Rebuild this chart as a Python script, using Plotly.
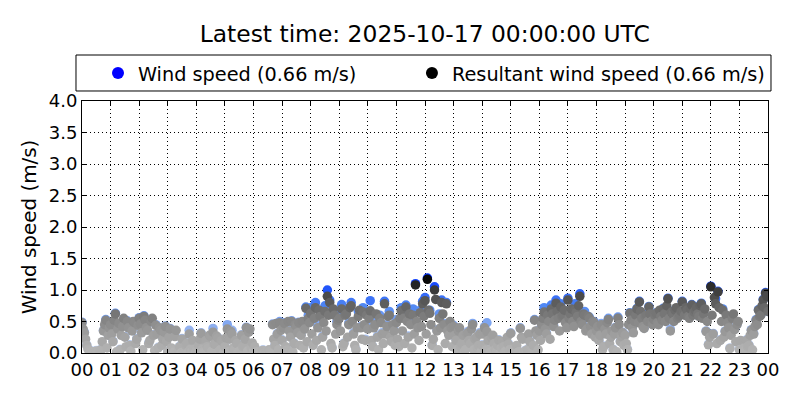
import plotly.graph_objects as go

hour_labels = ["00", "01", "02", "03", "04", "05", "06", "07", "08", "09", "10", "11",
               "12", "13", "14", "15", "16", "17", "18", "19", "20", "21", "22", "23", "00"]

# Resultant wind speed (m/s), samples at hh:00, hh:05, ... hh:55
resultant_by_hour = [
    [0.48, 0.32, 0.12, 0.04, 0.02, 0.01, 0.03, 0.02, 0.05, 0.35, 0.52, 0.28],
    [0.45, 0.18, 0.62, 0.38, 0.05, 0.42, 0.25, 0.50, 0.12, 0.35, 0.48, 0.22],
    [0.55, 0.32, 0.58, 0.40, 0.15, 0.50, 0.28, 0.44, 0.08, 0.36, 0.22, 0.42],
    [0.02, 0.38, 0.05, 0.26, 0.01, 0.10, 0.22, 0.03, 0.15, 0.30, 0.02, 0.06],
    [0.04, 0.12, 0.31, 0.02, 0.20, 0.08, 0.26, 0.33, 0.15, 0.24, 0.05, 0.18],
    [0.10, 0.38, 0.22, 0.30, 0.05, 0.15, 0.02, 0.28, 0.12, 0.40, 0.33, 0.08],
    [0.03, 0.01, 0.02, 0.00, 0.04, 0.02, 0.01, 0.03, 0.45, 0.12, 0.30, 0.48],
    [0.20, 0.47, 0.05, 0.35, 0.50, 0.15, 0.42, 0.48, 0.28, 0.08, 0.71, 0.55],
    [0.63, 0.12, 0.72, 0.40, 0.58, 0.25, 0.66, 0.90, 0.80, 0.08, 0.60, 0.45],
    [0.55, 0.70, 0.15, 0.62, 0.45, 0.75, 0.30, 0.05, 0.58, 0.40, 0.65, 0.20],
    [0.38, 0.67, 0.10, 0.45, 0.25, 0.55, 0.30, 0.78, 0.42, 0.60, 0.18, 0.35],
    [0.48, 0.10, 0.67, 0.55, 0.73, 0.25, 0.45, 0.60, 1.08, 0.40, 0.64, 0.78],
    [0.83, 1.17, 0.63, 0.12, 1.00, 0.35, 0.55, 0.80, 0.45, 0.78, 0.28, 0.40],
    [0.42, 0.20, 0.35, 0.10, 0.28, 0.05, 0.32, 0.15, 0.45, 0.22, 0.08, 0.30],
    [0.12, 0.40, 0.34, 0.05, 0.24, 0.15, 0.02, 0.20, 0.08, 0.10, 0.03, 0.14],
    [0.31, 0.02, 0.04, 0.01, 0.39, 0.22, 0.03, 0.05, 0.18, 0.02, 0.52, 0.28],
    [0.35, 0.45, 0.65, 0.30, 0.50, 0.70, 0.42, 0.79, 0.55, 0.73, 0.60, 0.48],
    [0.84, 0.62, 0.50, 0.68, 0.58, 0.90, 0.45, 0.60, 0.38, 0.55, 0.30, 0.48],
    [0.35, 0.20, 0.45, 0.10, 0.30, 0.53, 0.25, 0.05, 0.40, 0.55, 0.18, 0.32],
    [0.28, 0.05, 0.63, 0.40, 0.50, 0.70, 0.81, 0.55, 0.39, 0.60, 0.73, 0.50],
    [0.53, 0.63, 0.45, 0.58, 0.70, 0.50, 0.86, 0.35, 0.62, 0.68, 0.55, 0.60],
    [0.81, 0.60, 0.68, 0.55, 0.76, 0.65, 0.72, 0.58, 0.78, 0.62, 0.34, 0.13],
    [1.05, 0.30, 0.78, 0.97, 0.20, 0.68, 0.34, 0.48, 0.07, 0.55, 0.37, 0.45],
    [0.05, 0.02, 0.08, 0.20, 0.12, 0.36, 0.30, 0.52, 0.68, 0.60, 0.84, 0.95],
]
# Resultant wind speed (m/s), samples at hh:02:30, hh:07:30, ... hh:57:30
resultant_mid_by_hour = [
    [0.38, 0.22, 0.06, 0.01, 0.00, 0.02, 0.00, 0.04, 0.18, 0.45, 0.08, 0.40],
    [0.30, 0.52, 0.02, 0.47, 0.28, 0.55, 0.10, 0.40, 0.03, 0.50, 0.15, 0.44],
    [0.46, 0.05, 0.52, 0.36, 0.20, 0.55, 0.04, 0.30, 0.40, 0.12, 0.33, 0.18],
    [0.25, 0.08, 0.01, 0.36, 0.04, 0.00, 0.02, 0.12, 0.01, 0.06, 0.20, 0.00],
    [0.02, 0.22, 0.06, 0.01, 0.10, 0.28, 0.03, 0.14, 0.27, 0.02, 0.20, 0.01],
    [0.24, 0.02, 0.34, 0.08, 0.20, 0.01, 0.04, 0.10, 0.22, 0.03, 0.38, 0.16],
    [0.10, 0.00, 0.01, 0.03, 0.00, 0.02, 0.05, 0.01, 0.22, 0.47, 0.05, 0.36],
    [0.40, 0.10, 0.50, 0.25, 0.02, 0.45, 0.32, 0.12, 0.50, 0.38, 0.18, 0.48],
    [0.30, 0.55, 0.20, 0.68, 0.05, 0.48, 0.35, 0.60, 0.15, 0.70, 0.30, 0.52],
    [0.35, 0.10, 0.60, 0.25, 0.72, 0.50, 0.12, 0.40, 0.68, 0.22, 0.45, 0.60],
    [0.55, 0.20, 0.40, 0.62, 0.05, 0.48, 0.15, 0.30, 0.58, 0.25, 0.45, 0.12],
    [0.22, 0.55, 0.35, 0.15, 0.50, 0.62, 0.08, 0.30, 0.50, 0.20, 0.42, 0.58],
    [0.30, 0.68, 0.45, 0.22, 0.85, 0.05, 0.40, 0.62, 0.15, 0.35, 0.50, 0.10],
    [0.28, 0.05, 0.40, 0.15, 0.02, 0.30, 0.20, 0.38, 0.05, 0.25, 0.12, 0.02],
    [0.30, 0.05, 0.20, 0.01, 0.28, 0.06, 0.12, 0.00, 0.18, 0.02, 0.25, 0.05],
    [0.06, 0.00, 0.12, 0.02, 0.25, 0.00, 0.01, 0.30, 0.04, 0.12, 0.35, 0.05],
    [0.20, 0.55, 0.38, 0.60, 0.22, 0.62, 0.52, 0.66, 0.35, 0.58, 0.68, 0.40],
    [0.55, 0.70, 0.42, 0.64, 0.75, 0.50, 0.62, 0.35, 0.58, 0.42, 0.50, 0.25],
    [0.42, 0.28, 0.05, 0.38, 0.48, 0.15, 0.35, 0.30, 0.02, 0.45, 0.26, 0.12],
    [0.15, 0.45, 0.52, 0.32, 0.60, 0.48, 0.66, 0.42, 0.58, 0.50, 0.62, 0.45],
    [0.60, 0.48, 0.68, 0.52, 0.62, 0.75, 0.55, 0.65, 0.50, 0.72, 0.58, 0.66],
    [0.65, 0.72, 0.58, 0.70, 0.60, 0.68, 0.62, 0.75, 0.55, 0.70, 0.50, 0.25],
    [0.60, 0.88, 0.15, 0.72, 0.50, 0.25, 0.60, 0.40, 0.28, 0.62, 0.18, 0.50],
    [0.20, 0.01, 0.04, 0.10, 0.28, 0.05, 0.42, 0.45, 0.58, 0.75, 0.72, 0.90],
]
resultant_last = 0.66

# Wind speed (m/s), samples at hh:00, hh:05, ... hh:55
wind_by_hour = [
    [0.49, 0.33, 0.13, 0.05, 0.03, 0.02, 0.04, 0.03, 0.06, 0.36, 0.53, 0.29],
    [0.46, 0.19, 0.63, 0.39, 0.06, 0.43, 0.26, 0.51, 0.13, 0.36, 0.49, 0.23],
    [0.56, 0.33, 0.59, 0.41, 0.16, 0.51, 0.29, 0.45, 0.09, 0.37, 0.23, 0.43],
    [0.03, 0.39, 0.06, 0.27, 0.02, 0.11, 0.23, 0.04, 0.16, 0.36, 0.03, 0.07],
    [0.05, 0.13, 0.32, 0.03, 0.21, 0.09, 0.27, 0.39, 0.16, 0.25, 0.06, 0.19],
    [0.11, 0.45, 0.23, 0.36, 0.06, 0.16, 0.03, 0.29, 0.13, 0.41, 0.34, 0.09],
    [0.04, 0.02, 0.03, 0.01, 0.05, 0.03, 0.02, 0.04, 0.46, 0.13, 0.31, 0.50],
    [0.21, 0.48, 0.06, 0.36, 0.51, 0.16, 0.43, 0.49, 0.29, 0.09, 0.73, 0.60],
    [0.72, 0.13, 0.80, 0.44, 0.66, 0.27, 0.75, 1.00, 0.84, 0.09, 0.68, 0.50],
    [0.62, 0.77, 0.16, 0.70, 0.48, 0.80, 0.32, 0.06, 0.66, 0.42, 0.72, 0.22],
    [0.42, 0.83, 0.11, 0.52, 0.27, 0.60, 0.32, 0.82, 0.45, 0.66, 0.20, 0.37],
    [0.53, 0.11, 0.72, 0.62, 0.76, 0.27, 0.50, 0.70, 1.10, 0.43, 0.68, 0.82],
    [0.88, 1.19, 0.68, 0.13, 1.05, 0.37, 0.62, 0.84, 0.47, 0.80, 0.30, 0.42],
    [0.44, 0.22, 0.37, 0.11, 0.30, 0.06, 0.34, 0.16, 0.47, 0.23, 0.09, 0.32],
    [0.13, 0.42, 0.48, 0.06, 0.25, 0.16, 0.03, 0.21, 0.09, 0.11, 0.04, 0.15],
    [0.32, 0.03, 0.05, 0.02, 0.40, 0.23, 0.04, 0.06, 0.19, 0.03, 0.53, 0.29],
    [0.37, 0.48, 0.72, 0.32, 0.55, 0.76, 0.44, 0.84, 0.58, 0.78, 0.64, 0.50],
    [0.87, 0.68, 0.53, 0.78, 0.60, 0.94, 0.47, 0.66, 0.40, 0.57, 0.32, 0.50],
    [0.36, 0.21, 0.47, 0.11, 0.31, 0.55, 0.26, 0.06, 0.41, 0.57, 0.19, 0.33],
    [0.29, 0.06, 0.64, 0.41, 0.51, 0.71, 0.82, 0.56, 0.40, 0.61, 0.74, 0.51],
    [0.54, 0.64, 0.46, 0.59, 0.71, 0.51, 0.87, 0.38, 0.63, 0.69, 0.56, 0.61],
    [0.82, 0.61, 0.69, 0.56, 0.77, 0.66, 0.73, 0.59, 0.79, 0.63, 0.35, 0.14],
    [1.06, 0.31, 0.86, 0.98, 0.21, 0.70, 0.35, 0.53, 0.08, 0.57, 0.38, 0.46],
    [0.06, 0.03, 0.09, 0.21, 0.13, 0.37, 0.31, 0.53, 0.69, 0.61, 0.85, 0.96],
]
wind_last = 0.66

title_text = "Latest time: 2025-10-17 00:00:00 UTC"
wind_name = "Wind speed (0.66 m/s)"
res_name = "Resultant wind speed (0.66 m/s)"
y_title = "Wind speed (m/s)"

# flatten onto the time axis (hours since 00:00)
wind_t, wind = [], []
res_t, resultant = [], []
for h in range(24):
    for k in range(12):
        wind_t.append(h + k * 5 / 60)
        wind.append(wind_by_hour[h][k])
        res_t.append(h + k * 5 / 60)
        resultant.append(resultant_by_hour[h][k])
        res_t.append(h + (k * 5 + 2.5) / 60)
        resultant.append(resultant_mid_by_hour[h][k])
wind_t.append(24.0)
wind.append(wind_last)
res_t.append(24.0)
resultant.append(resultant_last)

blue_scale = [[0.0, "#c4d5f4"], [0.3, "#94b3f0"], [0.6, "#5088f4"], [1.0, "#0030ff"]]
gray_scale = [[0.0, "#b6b6b6"], [0.208, "#a3a3a3"], [0.417, "#888888"],
              [0.625, "#636363"], [0.833, "#3b3b3b"], [1.0, "#000000"]]

fig = go.Figure()
fig.add_trace(go.Scatter(
    x=wind_t, y=wind, mode="markers", name=wind_name, showlegend=False,
    marker=dict(size=9.5, color=wind, colorscale=blue_scale, cmin=0, cmax=1.2,
                line=dict(width=0)),
))
fig.add_trace(go.Scatter(
    x=res_t, y=resultant, mode="markers", name=res_name, showlegend=False,
    marker=dict(size=9.5, color=resultant, colorscale=gray_scale, cmin=0, cmax=1.2,
                line=dict(width=0)),
))
# legend entries (one legend per entry to reproduce the spacing)
fig.add_trace(go.Scatter(x=[None], y=[None], mode="markers", name=wind_name,
                         legend="legend", marker=dict(size=7, color="#0000ff")))
fig.add_trace(go.Scatter(x=[None], y=[None], mode="markers", name=res_name,
                         legend="legend2", marker=dict(size=7, color="#000000")))

font_family = "DejaVu Sans"
legend_common = dict(orientation="h", xanchor="left", y=1.1865, yanchor="top",
                     borderwidth=0, bgcolor="rgba(0,0,0,0)",
                     font=dict(size=19.3, family=font_family, color="black"),
                     itemsizing="constant")
fig.update_layout(
    width=800, height=400,
    margin=dict(l=74, r=40, t=93, b=55),
    paper_bgcolor="white", plot_bgcolor="white",
    font=dict(family=font_family, size=18, color="black"),
    title=dict(text=title_text, x=0.521, xanchor="center", xref="container",
               y=0.935, yref="container", yanchor="middle",
               font=dict(size=23.4, family=font_family, color="black")),
    legend=dict(x=0.0233, **legend_common),
    legend2=dict(x=0.481, **legend_common),
    shapes=[dict(type="rect", xref="paper", yref="paper",
                 x0=-0.00875, x1=1.00437, y0=1.0397, y1=1.1825,
                 line=dict(color="black", width=1), fillcolor="rgba(0,0,0,0)",
                 layer="below")],
)
fig.update_xaxes(
    range=[0, 24], tickmode="array", tickvals=list(range(25)), ticktext=hour_labels,
    showline=True, linecolor="black", linewidth=1, mirror="allticks",
    ticks="inside", ticklen=4, tickcolor="black",
    showgrid=True, gridcolor="black", gridwidth=0.8, griddash="1px,3px",
    zeroline=False, tickfont=dict(size=18, family=font_family),
)
fig.update_yaxes(
    range=[0, 4], tickmode="array", tickvals=[0, 0.5, 1, 1.5, 2, 2.5, 3, 3.5, 4],
    tickformat=".1f",
    showline=True, linecolor="black", linewidth=1, mirror="allticks",
    ticks="inside", ticklen=4, tickcolor="black",
    showgrid=True, gridcolor="black", gridwidth=0.8, griddash="1px,3px",
    zeroline=False, tickfont=dict(size=18, family=font_family),
    title=dict(text=y_title, font=dict(size=19.9, family=font_family), standoff=6),
)

fig.write_html("out.html")
